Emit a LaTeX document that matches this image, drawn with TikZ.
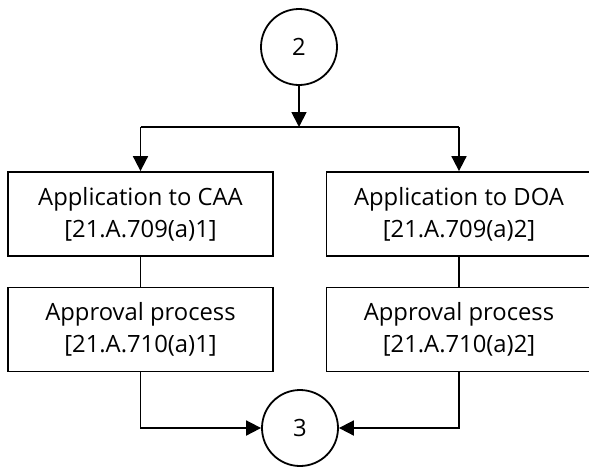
\documentclass[tikz,border=0pt]{standalone}
\usepackage{fontspec}
\setmainfont{Open Sans}
\usetikzlibrary{arrows.meta}
\begin{document}
\begin{tikzpicture}[x=1pt,y=-1pt, line width=1.8pt,
  box/.style={draw, minimum width=265pt, minimum height=84pt, align=center, inner sep=0pt, font=\fontsize{23.8}{32}\selectfont},
  conn/.style={draw, circle, minimum size=76pt, inner sep=0pt, font=\fontsize{23.8}{28}\selectfont},
  arr/.style={-{Triangle[length=15pt,width=15pt]}}]
\useasboundingbox (0,0) rectangle (589,467);
\node[conn] (c2) at (299,47) {2};
\coordinate (j) at (299,127);
\node[box] (a1) at (140.5,214) {Application to CAA\\{}[21.A.709(a)1]};
\node[box] (a2) at (459,214) {Application to DOA\\{}[21.A.709(a)2]};
\node[box] (p1) at (140.5,329.5) {Approval process\\{}[21.A.710(a)1]};
\node[box] (p2) at (459,329.5) {Approval process\\{}[21.A.710(a)2]};
\node[conn] (c3) at (300,428) {3};
\coordinate (jl) at (140.5,127);
\coordinate (jr) at (459,127);
\draw[arr] (c2) -- (j);
\draw (jl) -- (jr);
\draw[arr] (jl) -- (a1.north);
\draw[arr] (jr) -- (a2.north);
\draw (a1) -- (p1);
\draw (a2) -- (p2);
\draw[arr] (p1.south) |- (c3.west);
\draw[arr] (p2.south) |- (c3.east);
\end{tikzpicture}
\end{document}
